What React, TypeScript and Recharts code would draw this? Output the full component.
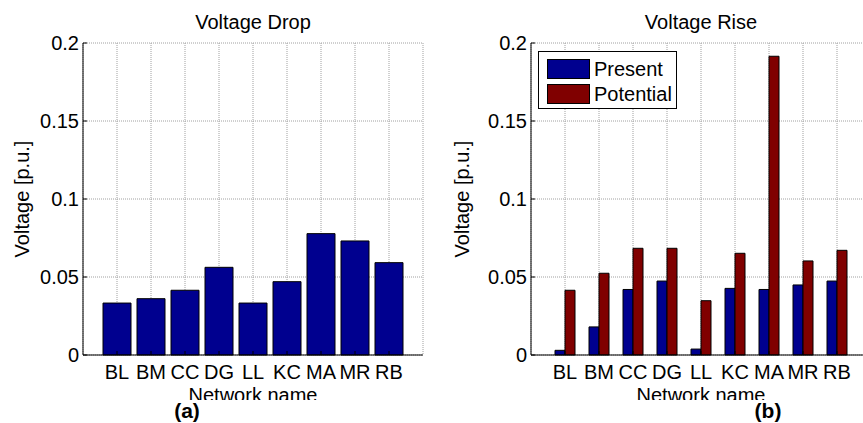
import React from "react";
import { Bar, BarChart, CartesianGrid, Legend, XAxis, YAxis } from "recharts";

const networks = ["BL", "BM", "CC", "DG", "LL", "KC", "MA", "MR", "RB"];
const dropValues = [0.0333, 0.0361, 0.0415, 0.0562, 0.0333, 0.047, 0.0778, 0.0731, 0.0592];
const risePresent = [0.003, 0.018, 0.042, 0.0474, 0.0038, 0.0427, 0.042, 0.0449, 0.0474];
const risePotential = [0.0415, 0.0524, 0.0684, 0.0684, 0.0348, 0.0652, 0.1915, 0.0603, 0.0671];
const yTicks = [0, 0.05, 0.1, 0.15, 0.2];
const seriesNames = ["Present", "Potential"];

const dropData = networks.map((name, i) => ({ name, drop: dropValues[i] }));
const riseData = networks.map((name, i) => ({ name, present: risePresent[i], potential: risePotential[i] }));

const FONT = "'Liberation Sans', Arial, sans-serif";
const FS = 20;
const BLUE = "#00008f";
const RED = "#800000";
const GRID = "#a0a0a0";

const BottomTick = (props: any) => {
  const { x, y, payload } = props;
  return (
    <g>
      <line x1={x} x2={x} y1={y - 4} y2={y} stroke="#000" />
      <text x={x} y={y + 24} textAnchor="middle" fontSize={FS} fontFamily={FONT} fill="#000">
        {payload.value}
      </text>
    </g>
  );
};

const TopTick = (props: any) => {
  const { x, y } = props;
  return <line x1={x} x2={x} y1={y} y2={y + 4} stroke="#000" />;
};

const LeftTick = (props: any) => {
  const { x, y, payload } = props;
  return (
    <g>
      <line x1={x} x2={x + 4} y1={y} y2={y} stroke="#000" />
      <text x={x - 4} y={y} dy="0.36em" textAnchor="end" fontSize={FS} fontFamily={FONT} fill="#000">
        {String(payload.value)}
      </text>
    </g>
  );
};

const RightTick = (props: any) => {
  const { x, y } = props;
  return <line x1={x - 4} x2={x} y1={y} y2={y} stroke="#000" />;
};

const yLabel = (props: any) => {
  const { viewBox } = props;
  const cx = viewBox.x + 22;
  const cy = viewBox.y + viewBox.height / 2;
  return (
    <text
      x={cx}
      y={cy}
      textAnchor="middle"
      dominantBaseline="central"
      transform={`rotate(-90, ${cx}, ${cy})`}
      fontSize={FS}
      fontFamily={FONT}
      fill="#000"
    >
      Voltage [p.u.]
    </text>
  );
};

// the x label is cut off at its bottom in the original figure
const xLabel = (id: string) => (props: any) => {
  const { viewBox } = props;
  const cx = viewBox.x + viewBox.width / 2;
  const cut = viewBox.y + 45;
  return (
    <g>
      <defs>
        <clipPath id={id}>
          <rect x={viewBox.x - 20} y={cut - 30} width={viewBox.width + 40} height={30} />
        </clipPath>
      </defs>
      <text x={cx} y={viewBox.y + 47} textAnchor="middle" fontSize={FS} fontFamily={FONT} fill="#000" clipPath={`url(#${id})`}>
        Network name
      </text>
    </g>
  );
};

const LegendBox = (props: any) => {
  const items = [...(props.payload || [])].sort(
    (a: any, b: any) => seriesNames.indexOf(a.value) - seriesNames.indexOf(b.value)
  );
  return (
    <div
      style={{
        border: "1px solid #000",
        background: "#fff",
        width: 137,
        height: 52,
        boxSizing: "content-box",
        fontFamily: FONT,
        fontSize: FS,
        paddingTop: 4,
      }}
    >
      {items.map((p: any) => (
        <div key={p.value} style={{ display: "flex", alignItems: "center", height: 25 }}>
          <div style={{ width: 41, height: 18, background: p.color, border: "1px solid #000", marginLeft: 8, marginRight: 4 }} />
          <span style={{ lineHeight: "22px" }}>{p.value}</span>
        </div>
      ))}
    </div>
  );
};

const Title = ({ text, left }: { text: string; left: number }) => (
  <div style={{ position: "absolute", left, top: 10, width: 340, textAlign: "center", fontFamily: FONT, fontSize: FS, lineHeight: "24px" }}>
    {text}
  </div>
);

const PanelTag = ({ text, center }: { text: string; center: number }) => (
  <div
    style={{
      position: "absolute",
      left: center - 50,
      top: 401,
      width: 100,
      textAlign: "center",
      fontFamily: FONT,
      fontSize: 21,
      lineHeight: "20px",
      fontWeight: "bold",
    }}
  >
    {text}
  </div>
);

export default function App() {
  return (
    <div style={{ position: "absolute", left: 0, top: 0, width: 863, height: 423, overflow: "hidden", background: "#fff" }}>
      <div style={{ position: "absolute", left: 0, top: 0 }}>
        <BarChart width={440} height={423} data={dropData} margin={{ top: 43, right: 17, bottom: 38, left: 0 }} barSize={28}>
          <CartesianGrid stroke={GRID} strokeDasharray="1 1" />
          <XAxis
            dataKey="name"
            height={30}
            padding={{ left: 17, right: 17 }}
            axisLine={{ stroke: "#000" }}
            tickLine={false}
            tickSize={0}
            tickMargin={0}
            tick={<BottomTick />}
            interval={0}
            label={{ content: xLabel("clipA") }}
          />
          <XAxis xAxisId="top" orientation="top" dataKey="name" height={0} padding={{ left: 17, right: 17 }} axisLine={{ stroke: "#000" }} tickLine={false} tickSize={0} tickMargin={0} tick={<TopTick />} interval={0} />
          <YAxis
            width={83}
            domain={[0, 0.2]}
            ticks={yTicks}
            axisLine={{ stroke: "#000" }}
            tickLine={false}
            tickSize={0}
            tickMargin={0}
            tick={<LeftTick />}
            label={{ content: yLabel }}
          />
          <YAxis yAxisId="right" orientation="right" width={0} domain={[0, 0.2]} ticks={yTicks} axisLine={{ stroke: "#000" }} tickLine={false} tickSize={0} tickMargin={0} tick={<RightTick />} />
          <Bar dataKey="drop" fill={BLUE} stroke="#000" strokeWidth={1} isAnimationActive={false} />
        </BarChart>
      </div>
      <div style={{ position: "absolute", left: 440, top: 0 }}>
        <BarChart width={440} height={423} data={riseData} margin={{ top: 43, right: 9, bottom: 38, left: 0 }} barSize={10} barGap={0}>
          <CartesianGrid stroke={GRID} strokeDasharray="1 1" />
          <XAxis
            dataKey="name"
            height={30}
            padding={{ left: 17, right: 17 }}
            axisLine={{ stroke: "#000" }}
            tickLine={false}
            tickSize={0}
            tickMargin={0}
            tick={<BottomTick />}
            interval={0}
            label={{ content: xLabel("clipB") }}
          />
          <XAxis xAxisId="top" orientation="top" dataKey="name" height={0} padding={{ left: 17, right: 17 }} axisLine={{ stroke: "#000" }} tickLine={false} tickSize={0} tickMargin={0} tick={<TopTick />} interval={0} />
          <YAxis
            width={91}
            domain={[0, 0.2]}
            ticks={yTicks}
            axisLine={{ stroke: "#000" }}
            tickLine={false}
            tickSize={0}
            tickMargin={0}
            tick={<LeftTick />}
            label={{ content: yLabel }}
          />
          <Legend
            layout="vertical"
            align="center"
            verticalAlign="middle"
            content={<LegendBox />}
            wrapperStyle={{ left: 98, top: 51, width: 139 }}
          />
          <Bar dataKey="present" name={seriesNames[0]} fill={BLUE} stroke="#000" strokeWidth={1} isAnimationActive={false} />
          <Bar dataKey="potential" name={seriesNames[1]} fill={RED} stroke="#000" strokeWidth={1} isAnimationActive={false} />
        </BarChart>
      </div>
      <Title text="Voltage Drop" left={83} />
      <Title text="Voltage Rise" left={531} />
      <PanelTag text="(a)" center={187} />
      <PanelTag text="(b)" center={768} />
    </div>
  );
}
